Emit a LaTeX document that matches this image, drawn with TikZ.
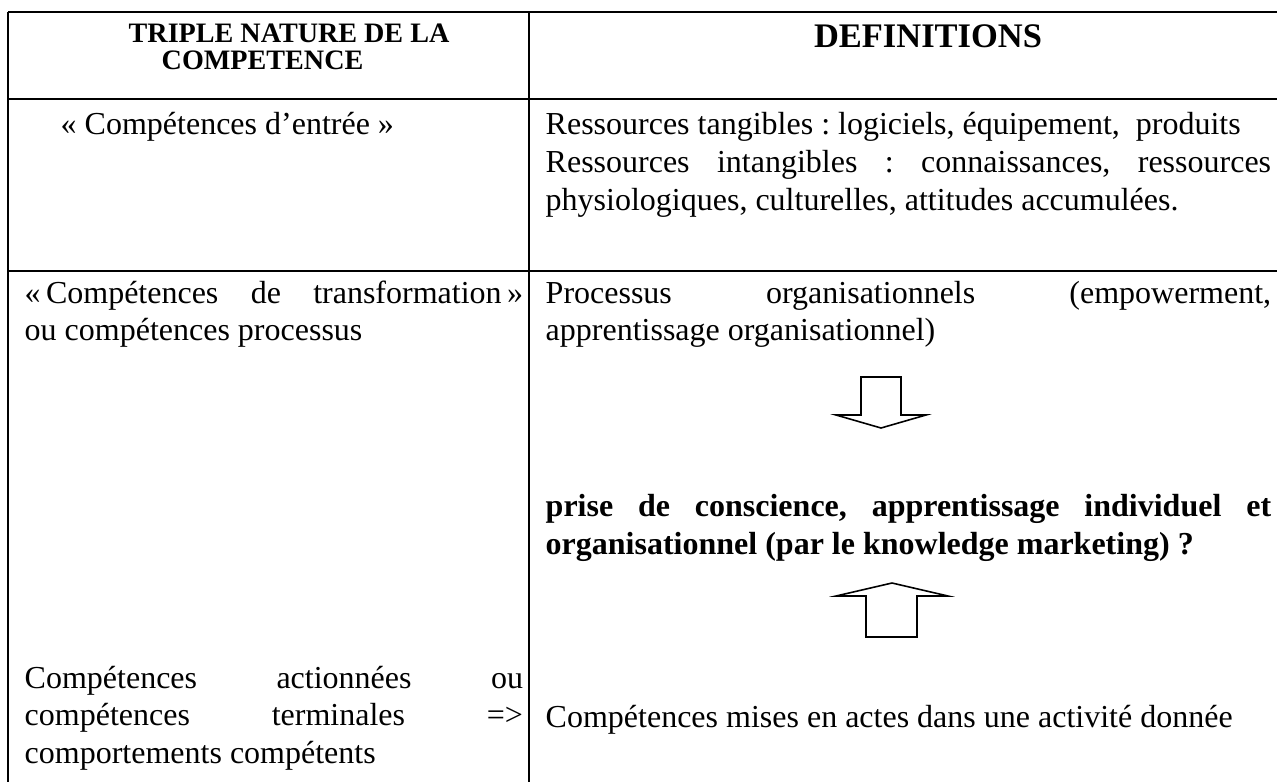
\documentclass[tikz,border=0pt]{standalone}
\usepackage{fontspec}
\setmainfont{Liberation Serif}
\usepackage{tikz}
\hyphenpenalty=10000
\frenchspacing

\tikzset{
  body/.style={font=\fontsize{9.1pt}{10.75pt}\selectfont, inner sep=0pt, anchor=base west},
  leftcell/.style={body, text width=4.98cm, align=justify},
  rightcell/.style={body, text width=7.25cm, align=justify},
  headfont/.style={font=\fontsize{8pt}{8.5pt}\selectfont\bfseries, inner sep=0pt, anchor=base west},
  rule/.style={line width=0.6pt},
  blockarrow/.style={line width=0.45pt, line join=miter}
}

\begin{document}
\begin{tikzpicture}[x=0.01cm, y=-0.01cm]
\useasboundingbox (0,0) rectangle (1277,782);

% table
\draw[rule] (8,12) -- (1277,12);
\draw[rule] (8,99) -- (1277,99);
\draw[rule] (8,271) -- (1277,271);
\draw[rule] (8,12) -- (8,782);
\draw[rule] (529,12) -- (529,782);

% header
\node(H1) [headfont] at (128,43) {TRIPLE NATURE DE LA};
\node(H1b) [headfont] at (161,70) {COMPETENCE};
\node(H2) [font=\fontsize{9.8pt}{11pt}\selectfont\bfseries, inner sep=0pt, anchor=base] at (928,48) {DEFINITIONS};

% row 1
\node(L1) [body] at (60,135) {« Compétences d’entrée »};
\node(R1) [rightcell] at (545,135) {Ressources tangibles : logiciels, équipement,\ \ produits\\
Ressources intangibles : connaissances, ressources\linebreak
physiologiques, culturelles, attitudes accumulées.};

% row 2
\node(L2) [leftcell] at (24,303) {«\,Compétences de transformation\,»\linebreak
ou compétences processus};
\node(R2) [rightcell] at (545,303) {Processus organisationnels (empowerment,\linebreak
apprentissage organisationnel)};
\node(R2b) [rightcell, font=\fontsize{9.1pt}{10.9pt}\selectfont\bfseries] at (545,516) {prise de conscience, apprentissage individuel et\linebreak
organisationnel (par le knowledge marketing) ?};

% arrows
\draw[blockarrow] (861,377) -- (901,377) -- (901,415) -- (926,415) -- (881,428) -- (836,415) -- (861,415) -- cycle;
\draw[blockarrow] (866,637) -- (917,637) -- (917,596) -- (948,596) -- (892,583) -- (836,596) -- (866,596) -- cycle;

% row 3
\node(L3) [leftcell] at (24,688) {Compétences actionnées ou\linebreak
compétences terminales =>\linebreak
comportements compétents};
\node(R3) [body] at (545,727) {Compétences mises en actes dans une activité donnée};
\end{tikzpicture}
\end{document}
